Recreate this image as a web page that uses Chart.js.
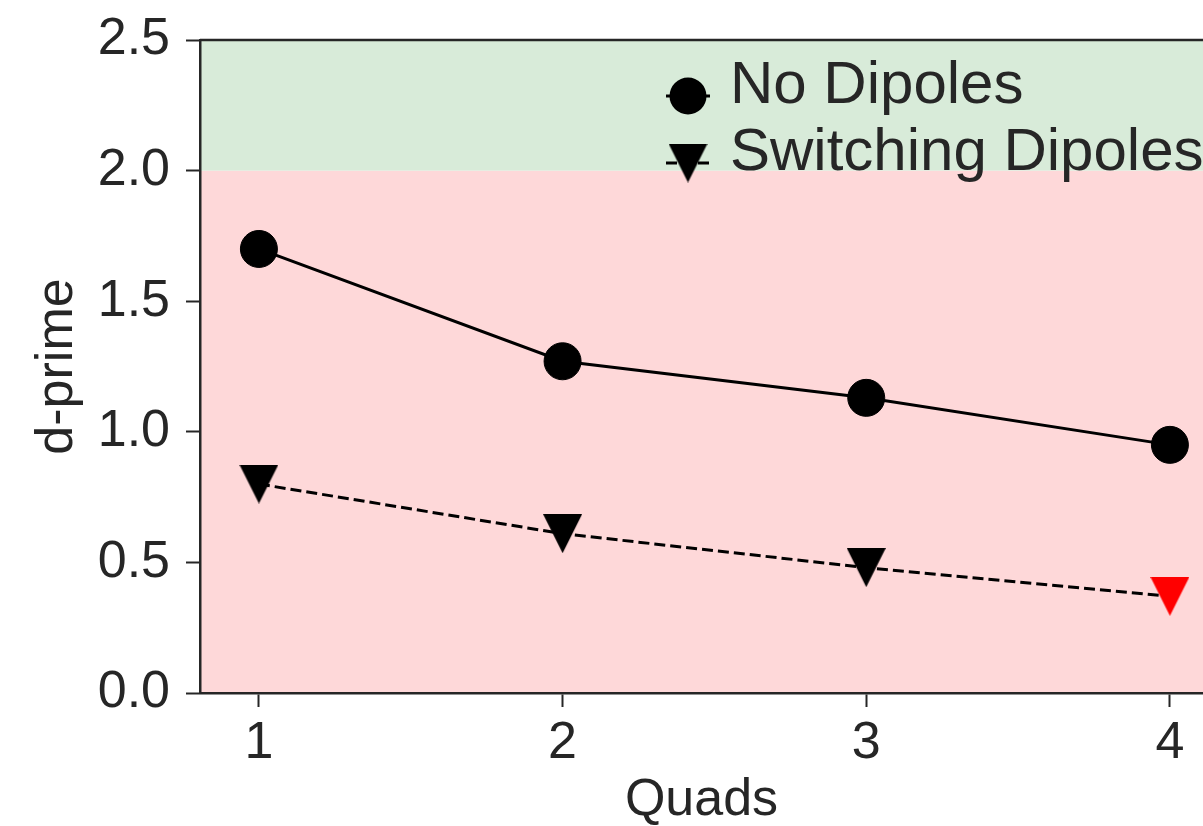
<!DOCTYPE html>
<html lang="en">
<head>
    <meta charset="UTF-8">
    <title>d-prime vs Quads</title>
    <script src="https://cdn.jsdelivr.net/npm/chart.js"></script>
    <style>
        body { margin: 0; background: #fff; }
    </style>
</head>
<body>
    <canvas id="chart" width="1203" height="826"></canvas>

    <script>
        // data
        var quads = [1, 2, 3, 4];
        var noDipoles = [1.70, 1.27, 1.13, 0.95];
        var switchingDipoles = [0.80, 0.61, 0.48, 0.37];
        var switchingColors = ['#000000', '#000000', '#000000', '#ff0000'];
        var xTicks = [1, 2, 3, 4];
        var yTicks = [0, 0.5, 1.0, 1.5, 2.0, 2.5];
        var seriesLabels = ['No Dipoles', 'Switching Dipoles'];
        var bands = [
            { from: 0, to: 2.0, color: 'rgb(254, 216, 217)' },
            { from: 2.0, to: 2.5, color: 'rgb(216, 235, 217)' }
        ];

        var ink = '#262626';
        var fontFamily = '"Liberation Sans", Arial, Helvetica, sans-serif';

        function triangleDown(color, size) {
            var c = document.createElement('canvas');
            c.width = size;
            c.height = size;
            var g = c.getContext('2d');
            g.fillStyle = color;
            g.beginPath();
            g.moveTo(0, 0);
            g.lineTo(size, 0);
            g.lineTo(size / 2, size);
            g.closePath();
            g.fill();
            return c;
        }

        var triStyles = switchingColors.map(function (c) { return triangleDown(c, 39); });

        function noPadding(s) {
            s.paddingTop = 0;
            s.paddingBottom = 0;
            s.paddingLeft = 0;
            s.paddingRight = 0;
        }

        var bandPlugin = {
            id: 'bands',
            beforeDraw: function (chart) {
                var ctx = chart.ctx, a = chart.chartArea, y = chart.scales.y;
                ctx.save();
                bands.forEach(function (b) {
                    var top = y.getPixelForValue(b.to), bottom = y.getPixelForValue(b.from);
                    ctx.fillStyle = b.color;
                    ctx.fillRect(a.left, top, a.right - a.left, bottom - top);
                });
                ctx.restore();
            },
            afterDraw: function (chart) {
                var ctx = chart.ctx, a = chart.chartArea;
                ctx.save();
                ctx.strokeStyle = ink;
                ctx.lineWidth = 2.5;
                ctx.beginPath();
                ctx.moveTo(a.left, a.top);
                ctx.lineTo(a.right, a.top);
                ctx.stroke();

                // legend
                var lx = 688, rows = [96, 163];
                ctx.font = '60px ' + fontFamily;
                ctx.textBaseline = 'alphabetic';
                for (var i = 0; i < 2; i++) {
                    var cy = rows[i];
                    ctx.strokeStyle = '#000';
                    ctx.lineWidth = 3;
                    ctx.setLineDash(i === 1 ? [11, 5] : []);
                    ctx.beginPath();
                    ctx.moveTo(lx - 22, cy);
                    ctx.lineTo(lx + 22, cy);
                    ctx.stroke();
                    ctx.setLineDash([]);
                    ctx.fillStyle = '#000';
                    if (i === 0) {
                        ctx.beginPath();
                        ctx.arc(lx, cy, 18.5, 0, Math.PI * 2);
                        ctx.fill();
                    } else {
                        ctx.drawImage(triStyles[0], lx - 19.5, cy - 19.5);
                    }
                    ctx.fillStyle = ink;
                    ctx.fillText(seriesLabels[i], 730, cy + 7);
                }
                ctx.restore();
            }
        };

        var ctx = document.getElementById('chart').getContext('2d');
        var chart = new Chart(ctx, {
            type: 'line',
            data: {
                datasets: [{
                    label: seriesLabels[0],
                    data: quads.map(function (q, i) { return { x: q, y: noDipoles[i] }; }),
                    borderColor: '#000',
                    borderWidth: 3,
                    pointStyle: 'circle',
                    pointRadius: 18.5,
                    pointBackgroundColor: '#000',
                    pointBorderColor: '#000',
                    pointBorderWidth: 1
                }, {
                    label: seriesLabels[1],
                    data: quads.map(function (q, i) { return { x: q, y: switchingDipoles[i] }; }),
                    borderColor: '#000',
                    borderWidth: 3,
                    borderDash: [11, 5],
                    pointStyle: triStyles,
                    pointRadius: 19.5
                }]
            },
            options: {
                responsive: false,
                animation: false,
                events: [],
                layout: { autoPadding: false, padding: { top: 40, left: 0, right: 0, bottom: 0 } },
                plugins: {
                    legend: { display: false },
                    tooltip: { enabled: false }
                },
                scales: {
                    x: {
                        type: 'linear',
                        min: 0.806,
                        max: 4.109,
                        afterBuildTicks: function (s) { s.ticks = xTicks.map(function (v) { return { value: v }; }); },
                        afterFit: function (s) { s.height = 133; noPadding(s); },
                        grid: { drawOnChartArea: false, tickLength: 14, tickWidth: 2, tickColor: ink },
                        border: { color: ink, width: 2.5 },
                        ticks: {
                            color: ink,
                            padding: 5,
                            maxRotation: 0,
                            font: { family: fontFamily, size: 52 },
                            callback: function (v) { return String(v); }
                        },
                        title: {
                            display: true,
                            text: 'Quads',
                            color: ink,
                            padding: { top: 0, bottom: -6 },
                            font: { family: fontFamily, size: 52 }
                        }
                    },
                    y: {
                        min: 0,
                        max: 2.5,
                        afterBuildTicks: function (s) { s.ticks = yTicks.map(function (v) { return { value: v }; }); },
                        afterFit: function (s) { s.width = 200; noPadding(s); },
                        grid: { drawOnChartArea: false, tickLength: 14, tickWidth: 2, tickColor: ink },
                        border: { color: ink, width: 2.5 },
                        ticks: {
                            color: ink,
                            padding: 16,
                            font: { family: fontFamily, size: 52 },
                            callback: function (v) { return v.toFixed(1); }
                        },
                        title: {
                            display: true,
                            text: 'd-prime',
                            color: ink,
                            padding: { top: 26, bottom: 0 },
                            font: { family: fontFamily, size: 52 }
                        }
                    }
                }
            },
            plugins: [bandPlugin]
        });
    </script>
</body>
</html>
